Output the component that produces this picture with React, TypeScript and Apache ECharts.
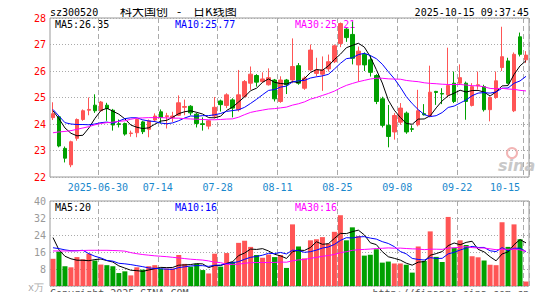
import React, { useEffect, useRef } from "react";
import * as echarts from "echarts";

const dates = [
  "2025-06-18","2025-06-19","2025-06-20","2025-06-23","2025-06-24","2025-06-25","2025-06-26","2025-06-27","2025-06-30",
  "2025-07-01","2025-07-02","2025-07-03","2025-07-04","2025-07-07","2025-07-08","2025-07-09","2025-07-10","2025-07-11","2025-07-14",
  "2025-07-15","2025-07-16","2025-07-17","2025-07-18","2025-07-21","2025-07-22","2025-07-23","2025-07-24","2025-07-25","2025-07-28",
  "2025-07-29","2025-07-30","2025-07-31","2025-08-01","2025-08-04","2025-08-05","2025-08-06","2025-08-07","2025-08-08","2025-08-11",
  "2025-08-12","2025-08-13","2025-08-14","2025-08-15","2025-08-18","2025-08-19","2025-08-20","2025-08-21","2025-08-22","2025-08-25",
  "2025-08-26","2025-08-27","2025-08-28","2025-08-29","2025-09-01","2025-09-02","2025-09-03","2025-09-04","2025-09-05","2025-09-08",
  "2025-09-09","2025-09-10","2025-09-11","2025-09-12","2025-09-15","2025-09-16","2025-09-17","2025-09-18","2025-09-19","2025-09-22",
  "2025-09-23","2025-09-24","2025-09-25","2025-09-26","2025-09-29","2025-09-30","2025-10-09","2025-10-10","2025-10-13","2025-10-14","2025-10-15"
];

const opens = [
  24.24,24.27,23.08,22.46,23.46,24.17,24.52,24.71,24.50,24.71,
  24.52,24.01,24.02,23.64,23.67,24.08,23.80,24.15,24.46,24.28,
  24.24,24.33,24.63,24.67,24.37,24.01,23.92,24.30,24.87,24.70,
  24.91,24.54,25.04,25.54,25.83,25.60,25.48,25.66,24.85,25.66,
  25.66,26.20,25.35,26.04,25.91,25.88,26.08,26.35,27.04,27.58,
  27.38,26.23,26.63,26.42,25.83,24.95,23.95,23.70,24.07,24.41,
  23.82,23.97,24.39,24.29,25.23,25.15,25.10,25.54,25.54,25.54,
  24.70,25.44,25.41,24.54,25.00,26.13,26.38,24.50,27.29,26.42
];
const closes = [
  24.39,23.17,22.71,23.33,24.17,24.50,24.55,24.50,24.83,24.58,
  23.96,23.98,23.62,23.66,24.17,23.71,24.12,24.30,24.25,24.31,
  24.30,24.80,24.66,24.42,24.02,23.98,24.12,24.63,24.73,25.10,
  24.60,25.10,25.60,25.88,25.58,25.70,25.75,24.95,25.66,25.48,
  26.17,25.54,25.73,26.79,26.04,26.04,26.35,26.95,27.79,27.26,
  26.48,26.75,26.23,25.95,24.85,23.95,23.53,24.32,24.60,23.70,
  23.80,24.50,24.35,25.20,25.19,25.13,25.45,24.85,25.75,24.85,
  25.41,25.48,24.54,25.00,25.63,26.54,25.54,26.63,26.63,26.60
];
const lows = [
  24.15,23.12,22.55,22.37,23.37,24.12,24.33,24.42,24.47,24.12,
  23.75,23.87,23.56,23.52,23.50,23.62,23.50,24.08,24.02,23.83,
  24.08,24.30,24.33,24.33,23.87,23.75,23.80,24.21,24.47,24.60,
  24.25,24.47,25.00,25.29,25.41,25.55,25.45,24.85,24.80,25.13,
  25.54,25.48,25.29,25.98,25.80,25.25,25.98,26.30,26.90,27.10,
  26.25,25.60,26.00,25.79,24.75,23.87,23.12,23.41,23.97,23.63,
  23.70,23.91,24.32,24.25,24.72,24.75,25.00,24.79,25.48,24.16,
  24.66,25.30,24.47,24.10,24.95,26.00,25.50,24.45,26.55,26.30
];
const highs = [
  24.82,24.30,23.15,23.37,24.21,24.55,25.00,25.12,24.87,24.80,
  24.57,24.17,24.05,23.75,24.21,24.12,24.17,24.40,24.55,24.42,
  24.46,25.08,24.92,24.71,24.42,24.25,24.15,25.02,24.92,25.16,
  24.97,26.04,25.66,26.17,25.88,25.95,26.10,25.70,25.80,25.70,
  27.23,26.30,25.80,27.00,26.50,26.55,26.62,27.00,27.83,27.62,
  27.86,26.92,26.70,26.60,25.88,25.03,24.72,24.41,24.79,24.47,
  23.95,25.29,24.75,26.20,25.25,25.35,26.88,25.98,26.25,25.60,
  25.54,25.98,25.48,25.04,25.98,27.67,26.50,26.70,27.45,26.75
];
const volumes = [
  12.8,16.2,9.3,8.8,13.6,12.6,15.2,12.0,10.1,9.8,
  9.3,6.1,6.9,5.0,8.8,7.7,9.3,9.8,8.2,8.2,
  8.2,14.6,10.4,9.1,10.4,7.5,5.9,15.2,9.1,15.5,
  11.4,20.3,21.3,18.4,14.6,13.3,14.8,13.6,14.6,8.5,
  29.0,18.6,13.0,21.5,22.0,23.0,20.0,25.5,33.3,21.5,
  27.6,23.5,14.3,14.7,17.3,11.0,11.5,10.6,10.6,10.0,
  6.3,18.6,11.8,25.7,13.7,11.3,32.5,18.0,21.5,19.3,
  14.0,13.5,12.0,10.0,9.8,30.0,18.4,29.0,22.0,2.1
];

const ma5Lead = [24.5, 24.2, 23.85, 23.65];
const ma10Lead = [24.55, 24.3, 24.05, 24.0, 23.98, 23.98, 23.97, 24.0, 24.05];
const ma30Lead = [
  23.67, 23.7, 23.72, 23.75, 23.8, 23.85, 23.9, 23.97, 24.02, 24.05,
  24.07, 24.1, 24.12, 24.18, 24.22, 24.23, 24.24, 24.24, 24.24, 24.23,
  24.22, 24.22, 24.2, 24.19, 24.18, 24.17, 24.16, 24.16, 24.17
];
const volMa5Lead = [22.8, 17.0, 14.0, 12.8];
const volMa10Lead = [18.0, 17.6, 17.0, 16.6, 16.6, 16.8, 15.2, 14.0, 13.2];
const volMa30Lead = [
  16.5, 16.5, 16.5, 16.5, 16.6, 16.7, 16.8, 16.8, 16.8, 16.8,
  16.7, 16.6, 16.4, 15.7, 15.2, 14.8, 14.5, 14.2, 14.0, 13.8,
  13.5, 13.2, 12.9, 12.6, 12.4, 12.2, 11.8, 11.2, 11.0
];

const labelDates = ["2025-06-30","2025-07-14","2025-07-28","2025-08-11","2025-08-25","2025-09-08","2025-09-22","2025-10-15"];
const priceTicks = [22, 23, 24, 25, 26, 27, 28];
const volTicks = [0, 8, 16, 24, 32, 40];

const legendPrice = ["MA5:26.35", "MA10:25.77", "MA30:25.21"];
const legendVol = ["MA5:20", "MA10:16", "MA30:16"];

const RED = "#ff5555";
const GREEN = "#00a000";
const MONO = "'DejaVu Sans Mono', monospace";
const CJK = "'Noto Sans CJK SC', sans-serif";

function movingAverage(vals: number[], n: number, lead: number[]) {
  return vals.map((_, i) => {
    if (i < n - 1) return lead[i];
    let s = 0;
    for (let k = i - n + 1; k <= i; k++) s += vals[k];
    return +(s / n).toFixed(3);
  });
}

export default function App() {
  const ref = useRef<HTMLDivElement>(null);
  useEffect(() => {
    if (!ref.current) return;
    const chart = echarts.init(ref.current, undefined, { renderer: "svg" });
    const labelIdx = new Set(labelDates.map((d) => dates.indexOf(d)));
    const firstLabel = dates.indexOf(labelDates[0]);
    const candle = dates.map((_, i) => [opens[i], closes[i], lows[i], highs[i]]);
    const volData = volumes.map((v, i) => ({
      value: v,
      itemStyle: { color: closes[i] >= opens[i] ? RED : GREEN },
    }));
    const splitX = {
      show: true,
      interval: (i: number) => labelIdx.has(i),
      lineStyle: { color: "#aaaaaa", type: [5, 3], width: 1 },
    };
    const line = (data: number[], color: string, x: number) => ({
      type: "line",
      data,
      xAxisIndex: x,
      yAxisIndex: x,
      showSymbol: false,
      symbol: "none",
      silent: true,
      lineStyle: { color, width: 1 },
    });
    const txt = (x: number, y: number, text: string, fill: string, extra: any = {}) => ({
      type: "text",
      x,
      y,
      silent: true,
      style: { text, fill, font: `10px ${MONO}`, textVerticalAlign: "middle", ...extra },
    });
    chart.setOption({
      animation: false,
      backgroundColor: "#ffffff",
      grid: [
        { left: 50, right: 16, top: 18, height: 159, show: true, borderColor: "#999999", borderWidth: 1, backgroundColor: "transparent" },
        { left: 50, right: 16, top: 201, height: 85, show: true, borderColor: "#999999", borderWidth: 1, backgroundColor: "transparent" },
      ],
      xAxis: [
        {
          type: "category",
          gridIndex: 0,
          data: dates,
          boundaryGap: true,
          axisLine: { show: false },
          axisTick: { show: false },
          splitLine: splitX,
          axisLabel: {
            interval: (i: number) => labelIdx.has(i),
            formatter: (v: string, i: number) => (i === firstLabel ? v : v.slice(5)),
            color: "#1a88cc",
            fontFamily: MONO,
            fontSize: 10,
            margin: 5,
            padding: [0, 6, 0, 0],
            alignMaxLabel: "right",
          },
        },
        {
          type: "category",
          gridIndex: 1,
          data: dates,
          boundaryGap: true,
          axisLine: { show: false },
          axisTick: { show: false },
          axisLabel: { show: false },
          splitLine: splitX,
        },
      ],
      yAxis: [
        {
          type: "value",
          gridIndex: 0,
          min: priceTicks[0],
          max: priceTicks[priceTicks.length - 1],
          interval: 1,
          axisLine: { show: false },
          axisTick: { show: false },
          axisLabel: { color: "#ff0000", fontFamily: MONO, fontSize: 10, margin: 4 },
          splitLine: { show: true, lineStyle: { color: "#aaaaaa", type: [1, 2], width: 1 } },
        },
        {
          type: "value",
          gridIndex: 1,
          min: volTicks[0],
          max: volTicks[volTicks.length - 1],
          interval: 8,
          axisLine: { show: false },
          axisTick: { show: false },
          axisLabel: {
            color: "#999999",
            fontFamily: MONO,
            fontSize: 10,
            margin: 4,
            formatter: (v: number) => (v === 0 ? "" : String(v)),
          },
          splitLine: { show: true, lineStyle: { color: "#aaaaaa", type: [1, 2], width: 1 } },
        },
      ],
      series: [
        {
          type: "candlestick",
          xAxisIndex: 0,
          yAxisIndex: 0,
          data: candle,
          barWidth: 4,
          silent: true,
          itemStyle: { color: RED, color0: GREEN, borderColor: RED, borderColor0: GREEN, borderWidth: 1 },
        },
        line(movingAverage(closes, 5, ma5Lead), "#000000", 0),
        line(movingAverage(closes, 10, ma10Lead), "#0000ff", 0),
        line(movingAverage(closes, 30, ma30Lead), "#ff00ff", 0),
        {
          type: "bar",
          xAxisIndex: 1,
          yAxisIndex: 1,
          data: volData,
          barWidth: 5,
          silent: true,
        },
        line(movingAverage(volumes, 5, volMa5Lead), "#000000", 1),
        line(movingAverage(volumes, 10, volMa10Lead), "#0000ff", 1),
        line(movingAverage(volumes, 30, volMa30Lead), "#ff00ff", 1),
      ],
      graphic: [
        txt(50, 12, "sz300520", "#000000"),
        { type: "text", x: 120, y: 10, silent: true, style: { text: "科大国创", fill: "#000", font: `12px ${CJK}`, textVerticalAlign: "middle" } },
        { type: "text", x: 177, y: 10, silent: true, style: { text: "-", fill: "#000", font: `12px ${CJK}`, textVerticalAlign: "middle" } },
        { type: "text", x: 193, y: 10, silent: true, style: { text: "日K线图", fill: "#000", font: `12px ${CJK}`, textVerticalAlign: "middle" } },
        txt(529, 12, "2025-10-15 09:37:45", "#000000", { textAlign: "right" }),
        txt(55, 24, legendPrice[0], "#000000"),
        txt(175, 24, legendPrice[1], "#0000ff"),
        txt(295, 24, legendPrice[2], "#ff00ff"),
        txt(55, 207, legendVol[0], "#000000"),
        txt(175, 207, legendVol[1], "#0000ff"),
        txt(295, 207, legendVol[2], "#ff00ff"),
        txt(28, 287, "x万", "#aaaaaa"),
        txt(50, 293, "Copyright 2025 SINA.COM", "#555555"),
        txt(529, 293, "http://finance.sina.com.cn", "#555555", { textAlign: "right" }),
        { type: "circle", shape: { cx: 512, cy: 153, r: 5 }, silent: true, style: { fill: "none", stroke: "#f2b5b5", lineWidth: 2 } },
        { type: "text", x: 498, y: 165, silent: true, style: { text: "sina", fill: "#c8c8c8", font: `italic bold 16px 'DejaVu Sans', sans-serif`, textVerticalAlign: "middle" } },
      ],
    });
    return () => chart.dispose();
  }, []);
  return <div ref={ref} style={{ width: 545, height: 300, margin: -8 }} />;
}
